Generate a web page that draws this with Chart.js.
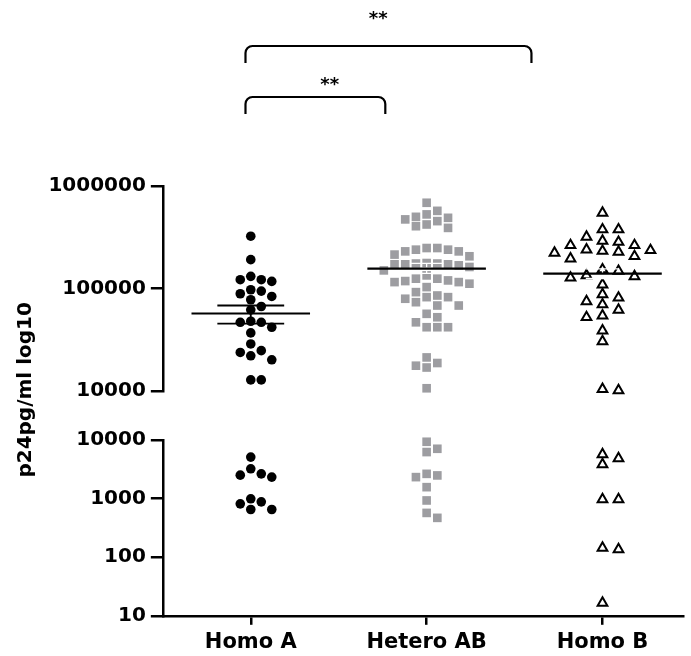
<!DOCTYPE html>
<html>
<head>
<meta charset="utf-8">
<script src="https://cdn.jsdelivr.net/npm/chart.js@4.4.1/dist/chart.umd.min.js"></script>
<style>
html,body{margin:0;padding:0;background:#fff;}
#wrap{width:691px;height:656px;position:relative;}
</style>
</head>
<body>
<div id="wrap"><canvas id="c"></canvas></div>
<script>
// ---------------- data ----------------
const categories = ['Homo A', 'Hetero AB', 'Homo B'];

const homoA = [323600, 191000, 131200, 121700, 117100, 121700, 97100, 94200, 88700, 83500,
  77500, 66600, 61800, 47800, 46700, 46700, 41800, 36800, 28700, 24700, 23700, 22000, 20100,
  12800, 12800, 5120, 3230, 2650, 2520, 2330, 993, 881, 815, 653, 653];

const heteroAB = [686000, 572000, 528000, 500000, 489000, 472000, 454000, 421000, 405000, 390000,
  248000, 248000, 239000, 239000, 230000, 230000, 214000, 206000,
  177000, 175000, 175000, 172000, 172000, 172000, 168000, 162000, 150000,
  134000, 124500, 124500, 119700, 118000, 115300, 115300, 111200, 103000,
  92000, 85300, 82200, 82200, 79300, 73400, 68100, 68100, 56500, 52300,
  46700, 41800, 41800, 41800, 21200, 18700, 17600, 16900, 10600,
  9350, 7100, 6240, 2650, 2490, 2330, 1570, 931, 571, 470];

const homoB = [547000, 376000, 376000, 318000, 291000, 284000, 264000, 264000,
  239000, 236000, 232000, 227000, 222000, 206000, 195000,
  153000, 148000, 134000, 131000, 127000, 108700, 87300, 81100, 74600, 69700,
  61800, 54300, 52300, 38700, 30400, 10400, 10100,
  5700, 4870, 3840, 970, 970, 144, 136, 16.6];

const meanValues = [56900, 156000, 139400];
const semLower = [45400, 140300, 125000];
const semUpper = [68100, 175800, 155000];

const upperTicks = [10000, 100000, 1000000];
const lowerTicks = [10, 100, 1000, 10000];
const breakValue = 10000;

const yTitle = 'p24pg/ml log10';
const comparisons = [
  { from: 'Homo A', to: 'Hetero AB', label: '**' },
  { from: 'Homo A', to: 'Homo B', label: '**' }
];

// ---------------- styling ----------------
const groups = [homoA, heteroAB, homoB];
const markerStyles = [
  { pointStyle: 'circle', radius: 4.8, fill: '#000000', stroke: '#000000', bw: 0, slotPx: 10.5, rowPx: 9.5 },
  { pointStyle: 'rect', radius: 6.1, fill: '#9d9da1', stroke: '#9d9da1', bw: 0, slotPx: 10.7, rowPx: 8.8 },
  { pointStyle: 'triangle', radius: 5.6, fill: '#ffffff', stroke: '#000000', bw: 2, slotPx: 16, rowPx: 9.5 }
];
const semColors = ['#000000', '#ffffff', '#ffffff'];
const semHalfWidths = [0.19, 0.095, 0.095];
const MEAN_HW = 0.337;

Chart.defaults.font.family = 'DejaVu Sans';
Chart.defaults.color = '#000';

const datasets = [];
groups.forEach((vals, i) => {
  const st = markerStyles[i];
  const c = i + 1;
  const hw = semHalfWidths[i];
  const base = {
    type: 'scatter', swarmGroup: i, order: 2, clip: false,
    pointStyle: st.pointStyle, pointRadius: st.radius, pointHoverRadius: st.radius,
    pointBackgroundColor: st.fill, pointBorderColor: st.stroke, pointBorderWidth: st.bw,
    backgroundColor: st.fill, borderColor: st.stroke
  };
  datasets.push(Object.assign({}, base, {
    label: categories[i], yAxisID: 'yUp',
    data: vals.filter(v => v >= breakValue).map(v => ({ x: c, y: v }))
  }));
  datasets.push(Object.assign({}, base, {
    label: categories[i] + ' (low)', yAxisID: 'yLow',
    data: vals.filter(v => v < breakValue).map(v => ({ x: c, y: v }))
  }));
  datasets.push({
    type: 'line', label: categories[i] + ' mean', yAxisID: 'yUp', order: 0, clip: false,
    data: [{ x: c - MEAN_HW, y: meanValues[i] }, { x: c + MEAN_HW, y: meanValues[i] }],
    borderColor: '#000', borderWidth: 2.2, pointRadius: 0, fill: false
  });
  datasets.push({
    type: 'line', label: categories[i] + ' SEM', yAxisID: 'yUp', order: 1, clip: false,
    spanGaps: false,
    data: [
      { x: c - hw, y: semUpper[i] }, { x: c + hw, y: semUpper[i] }, { x: c, y: null },
      { x: c, y: semUpper[i] }, { x: c, y: semLower[i] }, { x: c, y: null },
      { x: c - hw, y: semLower[i] }, { x: c + hw, y: semLower[i] }
    ],
    borderColor: semColors[i], borderWidth: i === 0 ? 1.8 : 1.3, pointRadius: 0, fill: false
  });
});

const tickFont = { family: 'DejaVu Sans', size: 20, weight: 'bold' };
const axisGrid = { display: true, drawOnChartArea: false, drawTicks: true, tickLength: 12, color: '#000', lineWidth: 2.5 };
const axisBorder = { display: true, color: '#000', width: 2.5 };

function logAxis(ticksArr, weight, stackWeight) {
  return {
    type: 'logarithmic', position: 'left', stack: 'y', weight: weight, stackWeight: stackWeight,
    min: ticksArr[0], max: ticksArr[ticksArr.length - 1],
    afterBuildTicks: s => { s.ticks = ticksArr.map(v => ({ value: v })); },
    ticks: { font: tickFont, color: '#000', padding: 5, autoSkip: false, callback: v => String(v) },
    grid: axisGrid, border: axisBorder
  };
}

// bracket annotation plugin
const bracketPlugin = {
  id: 'brackets',
  afterDraw(chart, args, opts) {
    const { ctx, chartArea, scales: { x } } = chart;
    ctx.save();
    ctx.strokeStyle = '#000';
    ctx.fillStyle = '#000';
    ctx.lineWidth = opts.lineWidth;
    opts.items.forEach(b => {
      const x1 = x.getPixelForValue(b.start);
      const x2 = x.getPixelForValue(b.end);
      const top = chartArea.top - b.rise;
      const bottom = top + opts.leg;
      const r = opts.radius;
      ctx.beginPath();
      ctx.moveTo(x1, bottom);
      ctx.lineTo(x1, top + r);
      ctx.arcTo(x1, top, x1 + r, top, r);
      ctx.lineTo(x2 - r, top);
      ctx.arcTo(x2, top, x2, top + r, r);
      ctx.lineTo(x2, bottom);
      ctx.stroke();
      ctx.font = opts.font;
      ctx.textAlign = 'center';
      ctx.textBaseline = 'alphabetic';
      ctx.fillText(b.label, x.getPixelForValue(b.labelAt), top - b.labelGap);
    });
    ctx.restore();
  }
};

const idx = name => categories.indexOf(name) + 1;

const chart = new Chart(document.getElementById('c'), {
  data: { datasets },
  options: {
    responsive: true, maintainAspectRatio: false, animation: false,
    layout: { padding: { left: 14, top: 186, right: 0, bottom: -4 } },
    plugins: {
      legend: { display: false }, tooltip: { enabled: false },
      brackets: {
        lineWidth: 2.2, radius: 7, leg: 17, font: 'bold 18px "DejaVu Sans"',
        items: [
          { label: comparisons[0].label, start: idx(comparisons[0].from) - 0.03, end: idx(comparisons[0].to) - 0.235, rise: 89, labelAt: 1.449, labelGap: 7 },
          { label: comparisons[1].label, start: idx(comparisons[1].from) - 0.03, end: idx(comparisons[1].to) - 0.404, rise: 140, labelAt: 1.725, labelGap: 22 }
        ]
      }
    },
    scales: {
      x: {
        type: 'linear', position: 'bottom', min: 0.5, max: 3.46,
        afterBuildTicks: s => { s.ticks = categories.map((c, i) => ({ value: i + 1 })); },
        ticks: { font: { family: 'DejaVu Sans', size: 21, weight: 'bold' }, color: '#000', padding: 5,
                 maxRotation: 0, autoSkip: false, callback: v => categories[Math.round(v) - 1] || '' },
        grid: { display: true, drawOnChartArea: false, drawTicks: true, tickLength: 9, color: '#000', lineWidth: 2.5 },
        border: axisBorder
      },
      yTitle: {
        type: 'linear', position: 'left', stack: 't', weight: 10, stackWeight: 406,
        ticks: { display: false }, grid: { display: false, drawTicks: false }, border: { display: false },
        title: { display: true, text: yTitle, color: '#000', font: { family: 'DejaVu Sans', size: 20, weight: 'bold' },
                 padding: { top: 0, bottom: 12 } }
      },
      yTitleSpacer: { type: 'linear', position: 'left', stack: 't', weight: 9, stackWeight: 22, display: false },
      yUp: logAxis(upperTicks, 3, 204),
      yGap: { type: 'linear', position: 'left', stack: 'y', weight: 2, stackWeight: 49, display: false },
      yLow: logAxis(lowerTicks, 1, 175)
    }
  },
  plugins: [bracketPlugin]
});

// beeswarm-style horizontal spreading (collision avoidance), using the chart's own scales
function layoutSwarm(chart) {
  const xs = chart.scales.x;
  const unitPx = xs.getPixelForValue(2) - xs.getPixelForValue(1);
  groups.forEach((vals, g) => {
    const st = markerStyles[g];
    const pts = [];
    chart.data.datasets.forEach(ds => {
      if (ds.swarmGroup !== g) return;
      const ys = chart.scales[ds.yAxisID];
      ds.data.forEach(p => pts.push({ p, py: ys.getPixelForValue(p.y) }));
    });
    pts.sort((a, b) => a.py - b.py);
    const placed = [];
    pts.forEach(q => {
      const near = placed.filter(p => Math.abs(p.py - q.py) < st.rowPx);
      const balance = near.reduce((s, p) => s + p.ox, 0);
      const sign = balance > 0 ? -1 : 1;
      let best = 0;
      for (let k = 0; k < 60; k++) {
        const cands = k === 0 ? [0] : [sign * k * 0.5 * st.slotPx, -sign * k * 0.5 * st.slotPx];
        const ok = cands.find(ox => !near.some(p => Math.abs(p.ox - ox) < st.slotPx * 0.97));
        if (ok !== undefined) { best = ok; break; }
      }
      placed.push({ ox: best, py: q.py });
      q.p.x = g + 1 + best / unitPx;
    });
  });
  chart.data.datasets.forEach(ds => { if (ds.swarmGroup !== undefined) ds.data = ds.data.slice(); });
  chart.update('none');
}
layoutSwarm(chart);
</script>
</body>
</html>
